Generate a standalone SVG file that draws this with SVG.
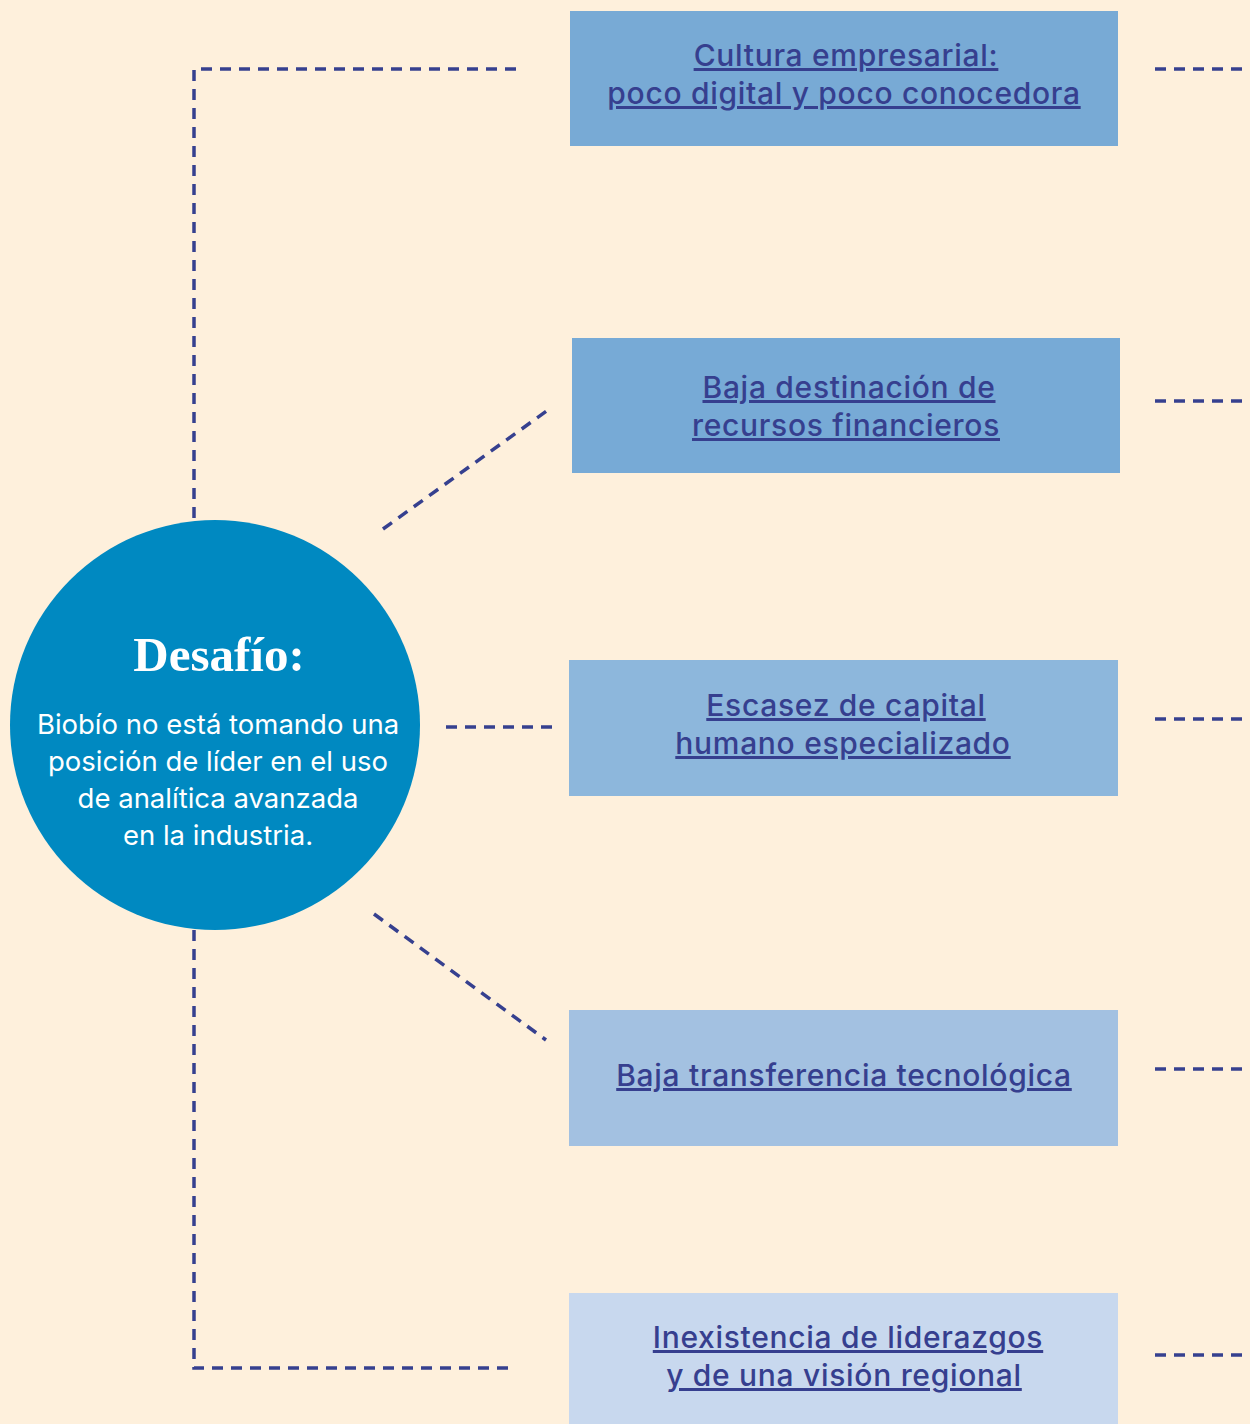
<svg xmlns="http://www.w3.org/2000/svg" width="1250" height="1424" viewBox="0 0 1250 1424">
<style>
.c{fill:none;stroke:#36408F;stroke-width:3.5;stroke-dasharray:11 8}
.t{font-family:Inter,"Noto Sans","Liberation Sans",sans-serif;font-size:30px;font-weight:500;letter-spacing:0.7px;fill:#363F8F;text-anchor:middle;text-decoration:underline}
.b{font-family:Inter,"Noto Sans","Liberation Sans",sans-serif;font-size:27.5px;fill:#ffffff;text-anchor:middle}
.h{font-family:"Liberation Serif","DejaVu Serif",serif;font-size:49px;font-weight:bold;fill:#ffffff;text-anchor:middle}
</style>
<rect width="1250" height="1424" fill="#FEF0DC"/>
<g id="connectors">
<polyline class="c" points="516,69 194,69 194,520"/>
<polyline class="c" points="194,930 194,1368 516,1368"/>
<line class="c" x1="383" y1="529" x2="548" y2="410"/>
<line class="c" x1="446" y1="727" x2="558" y2="727"/>
<line class="c" x1="374" y1="914" x2="546" y2="1040"/>
<line class="c" x1="1155" y1="69" x2="1250" y2="69"/>
<line class="c" x1="1155" y1="401" x2="1250" y2="401"/>
<line class="c" x1="1155" y1="719" x2="1250" y2="719"/>
<line class="c" x1="1155" y1="1069" x2="1250" y2="1069"/>
<line class="c" x1="1155" y1="1355" x2="1250" y2="1355"/>
</g>
<g id="desafio">
<circle cx="215" cy="725" r="205" fill="#0089C1"/>
<text class="h" x="219" y="671">Desafío:</text>
<text class="b" x="218" y="734">Biobío no está tomando una</text>
<text class="b" x="218" y="771">posición de líder en el uso</text>
<text class="b" x="218" y="808">de analítica avanzada</text>
<text class="b" x="218" y="845">en la industria.</text>
</g>
<g id="cultura">
<rect x="570" y="11" width="548" height="135" fill="#78AAD5"/>
<text class="t" x="846" y="66">Cultura empresarial: </text>
<text class="t" x="844" y="104">poco digital y poco conocedora</text>
</g>
<g id="recursos">
<rect x="572" y="338" width="548" height="135" fill="#77AAD6"/>
<text class="t" x="849" y="398">Baja destinación de </text>
<text class="t" x="846" y="436">recursos financieros</text>
</g>
<g id="capital">
<rect x="569" y="660" width="549" height="136" fill="#8DB7DC"/>
<text class="t" x="846" y="716">Escasez de capital </text>
<text class="t" x="843" y="754">humano especializado</text>
</g>
<g id="transferencia">
<rect x="569" y="1010" width="549" height="136" fill="#A3C1E1"/>
<text class="t" x="844" y="1086">Baja transferencia tecnológica</text>
</g>
<g id="liderazgos">
<rect x="569" y="1293" width="549" height="131" fill="#C8D8EE"/>
<text class="t" x="848" y="1348">Inexistencia de liderazgos </text>
<text class="t" x="844" y="1386"> y de una visión regional</text>
</g>
</svg>
